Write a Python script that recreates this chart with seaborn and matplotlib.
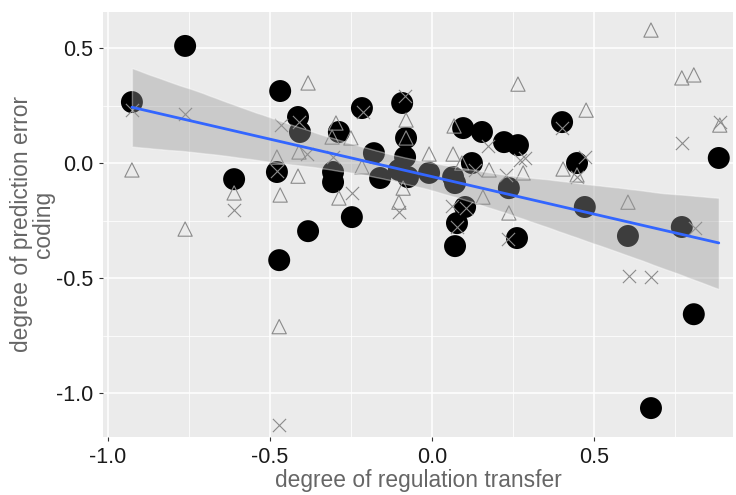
import numpy as np
import pandas as pd
import matplotlib
matplotlib.use('Agg')
import matplotlib.pyplot as plt
import seaborn as sns
from matplotlib.ticker import MultipleLocator

# filled circles (these carry the fitted line)
circle_x = [-0.925, -0.761, -0.610, -0.478, -0.468, -0.413, -0.407, -0.471, -0.382, -0.305,
            -0.305, -0.287, -0.216, -0.179, -0.160, -0.102, -0.092, -0.080, -0.083, -0.074,
            -0.009, -0.247, 0.065, 0.071, 0.096, 0.123, 0.154, 0.222, 0.265, 0.102,
            0.077, 0.071, 0.237, 0.262, 0.401, 0.447, 0.471, 0.604, 0.770, 0.807,
            0.675, 0.884]
circle_y = [0.265, 0.509, -0.070, -0.039, 0.313, 0.200, 0.135, -0.422, -0.296, -0.039,
            -0.083, 0.135, 0.239, 0.043, -0.065, -0.030, 0.261, 0.109, 0.026, -0.061,
            -0.043, -0.235, -0.061, -0.087, 0.152, 0.000, 0.135, 0.091, 0.078, -0.191,
            -0.261, -0.361, -0.109, -0.326, 0.178, 0.000, -0.191, -0.317, -0.278, -0.657,
            -1.065, 0.022]

# open triangles
tri_x = [-0.925, -0.761, -0.610, -0.478, -0.468, -0.471, -0.413, -0.410, -0.382, -0.296,
         -0.308, -0.250, -0.216, -0.287, -0.080, -0.080, -0.089, -0.102, -0.009, 0.065,
         0.068, 0.092, 0.176, 0.157, 0.265, 0.281, 0.237, 0.404, 0.447, 0.475,
         0.604, 0.675, 0.770, 0.807, 0.887]
tri_y = [-0.030, -0.287, -0.130, 0.026, -0.139, -0.711, -0.057, 0.048, 0.348, 0.174,
         0.113, 0.109, -0.017, -0.152, 0.187, 0.109, -0.109, -0.170, 0.039, 0.039,
         0.161, 0.000, -0.030, -0.148, 0.343, -0.043, -0.217, -0.026, -0.052, 0.230,
         -0.170, 0.578, 0.370, 0.383, 0.165]

# crosses
cross_x = [-0.925, -0.761, -0.610, -0.478, -0.466, -0.410, -0.385, -0.471, -0.305, -0.247,
           -0.213, -0.083, -0.102, 0.062, 0.105, 0.077, 0.173, 0.271, 0.287, 0.228,
           0.401, 0.472, 0.447, 0.234, 0.607, 0.675, 0.770, 0.811, 0.887, 0.133]
cross_y = [0.230, 0.213, -0.204, -0.035, 0.165, 0.178, 0.039, -1.139, 0.026, -0.130,
           0.222, 0.291, -0.213, -0.187, -0.196, -0.278, 0.074, 0.013, 0.022, -0.052,
           0.152, 0.026, -0.061, -0.330, -0.491, -0.496, 0.087, -0.283, 0.178, -0.030]

x_ticks = [-1.0, -0.5, 0.0, 0.5]
y_ticks = [-1.0, -0.5, 0.0, 0.5]

sns.set_theme(style="darkgrid", rc={
    'axes.facecolor': '#EBEBEB',
    'grid.color': 'white',
    'axes.edgecolor': '#EBEBEB',
    'axes.unicode_minus': False,
})
plt.rcParams['font.family'] = ['Liberation Sans', 'DejaVu Sans']

fig, ax = plt.subplots(figsize=(7.36, 4.95), dpi=100)
fig.subplots_adjust(left=0.140, right=0.996, top=0.976, bottom=0.117)

sns.scatterplot(x=circle_x, y=circle_y, ax=ax, color='black', s=250,
                edgecolor='none', zorder=2)
sns.scatterplot(x=tri_x, y=tri_y, ax=ax, marker='^', s=105, facecolor='none',
                edgecolor='#8a8a8a', linewidth=0.8, zorder=3)
sns.scatterplot(x=cross_x, y=cross_y, ax=ax, marker='x', s=90, color='#8a8a8a',
                linewidth=0.8, zorder=3)

df = pd.DataFrame({'x': circle_x, 'y': circle_y})
sns.regplot(data=df, x='x', y='y', ax=ax, scatter=False, ci=90, seed=3,
            n_boot=2000, color='#3366FF', line_kws={'linewidth': 2, 'zorder': 5})
band = ax.collections[-1]
band.set_facecolor('#999999')
band.set_alpha(0.4)
band.set_zorder(4)

ax.set_xlim(-1.014, 0.928)
ax.set_ylim(-1.191, 0.657)
ax.set_xticks(x_ticks)
ax.set_yticks(y_ticks)
ax.xaxis.set_minor_locator(MultipleLocator(0.25))
ax.yaxis.set_minor_locator(MultipleLocator(0.25))
ax.grid(which='major', color='white', linewidth=1.1)
ax.grid(which='minor', color='white', linewidth=0.55)
ax.tick_params(which='major', length=3, width=0.8, color='#333333', labelsize=15.5,
               labelcolor='#1a1a1a', pad=4, bottom=True, left=True)
ax.tick_params(which='minor', length=0)
for s in ax.spines.values():
    s.set_visible(False)

ax.set_xlabel('degree of regulation transfer', fontsize=16.4, color='#666666', labelpad=1)
ax.set_ylabel('degree of prediction error\ncoding', fontsize=16.4, color='#666666',
              labelpad=1, linespacing=0.92)

fig.savefig('out.png', dpi=100)
